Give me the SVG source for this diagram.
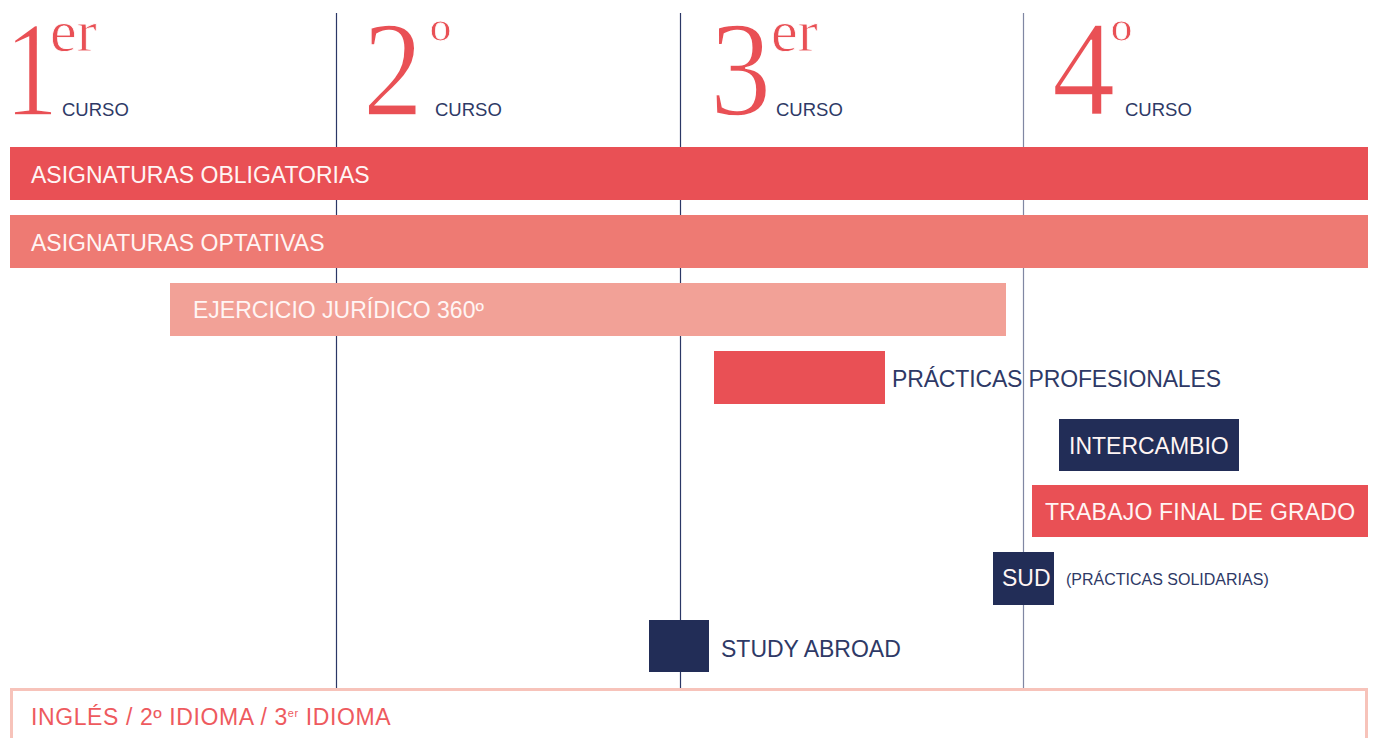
<svg xmlns="http://www.w3.org/2000/svg" width="1374" height="738" viewBox="0 0 1374 738">
<style>
.num{font-family:"Liberation Serif",serif;fill:#E95055;font-size:136px;stroke:#fff;stroke-width:1.6}
.sup{font-family:"Liberation Serif",serif;fill:#E95055;font-size:60px;stroke:#fff;stroke-width:0.8}
.ord{font-family:"Liberation Serif",serif;fill:#E95055;font-size:68px;stroke:#fff;stroke-width:0.8}
.curso{font-family:"Liberation Sans",Arial,sans-serif;fill:#2E3966;font-size:18.5px}
.lbl{font-family:"Liberation Sans",Arial,sans-serif;font-size:23px}
.w{fill:#FFF5F4}
.n{fill:#2E3966}
.grid{stroke:#2B3766;stroke-width:1.2}
</style>
<rect width="1374" height="738" fill="#fff"/>
<g id="grid" class="connectors">
<line class="grid" x1="336.5" y1="13" x2="336.5" y2="688"/>
<line class="grid" x1="680.5" y1="13" x2="680.5" y2="688"/>
<line class="grid" x1="1023.5" y1="13" x2="1023.5" y2="688" stroke-opacity="0.6"/>
</g>
<g id="h1"><text class="num" transform="translate(5,115) scale(0.78,1)">1</text><text class="sup" x="50" y="51">er</text><text class="curso" x="62" y="116">CURSO</text></g>
<g id="h2"><text class="num" transform="translate(363,115) scale(0.88,1)">2</text><text class="ord" x="430" y="67">º</text><text class="curso" x="435" y="116">CURSO</text></g>
<g id="h3"><text class="num" transform="translate(710,115) scale(0.9,1)">3</text><text class="sup" x="771" y="51">er</text><text class="curso" x="776" y="116">CURSO</text></g>
<g id="h4"><text class="num" transform="translate(1052,115) scale(0.93,1)">4</text><text class="ord" x="1111" y="67">º</text><text class="curso" x="1125" y="116">CURSO</text></g>
<g id="obligatorias"><rect x="10" y="147" width="1358" height="53" fill="#E95055"/><text class="lbl w" x="31" y="183">ASIGNATURAS OBLIGATORIAS</text></g>
<g id="optativas"><rect x="10" y="215" width="1358" height="53" fill="#EE7A73"/><text class="lbl w" x="31" y="251">ASIGNATURAS OPTATIVAS</text></g>
<g id="ejercicio"><rect x="170" y="283" width="836" height="53" fill="#F2A197"/><text class="lbl w" x="193" y="318">EJERCICIO JURÍDICO 360º</text></g>
<g id="practicas"><rect x="714" y="351" width="171" height="53" fill="#E95055"/><text class="lbl n" x="892" y="387" letter-spacing="-0.15">PRÁCTICAS PROFESIONALES</text></g>
<g id="intercambio"><rect x="1059" y="419" width="180" height="52" fill="#222D57"/><text class="lbl w" x="1069" y="454">INTERCAMBIO</text></g>
<g id="tfg"><rect x="1032" y="485" width="336" height="52" fill="#E95055"/><text class="lbl w" x="1045" y="520" letter-spacing="0.2">TRABAJO FINAL DE GRADO</text></g>
<g id="sud"><rect x="993" y="552" width="61" height="53" fill="#222D57"/><text class="lbl w" x="1002" y="586" font-size="22px">SUD</text><text class="n" x="1066" y="585" font-family="Liberation Sans, Arial, sans-serif" font-size="16px">(PRÁCTICAS SOLIDARIAS)</text></g>
<g id="study"><rect x="649" y="620" width="60" height="52" fill="#222D57"/><text class="lbl n" x="721" y="657">STUDY ABROAD</text></g>
<g id="idiomas"><rect x="11.5" y="689.5" width="1355" height="60" fill="none" stroke="#F7C3BA" stroke-width="3"/><text class="lbl" x="31" y="725" fill="#EE5A5E" letter-spacing="0.6">INGLÉS / 2º IDIOMA / 3<tspan font-size="11px" dy="-8">er</tspan><tspan dy="8"> IDIOMA</tspan></text></g>
</svg>
